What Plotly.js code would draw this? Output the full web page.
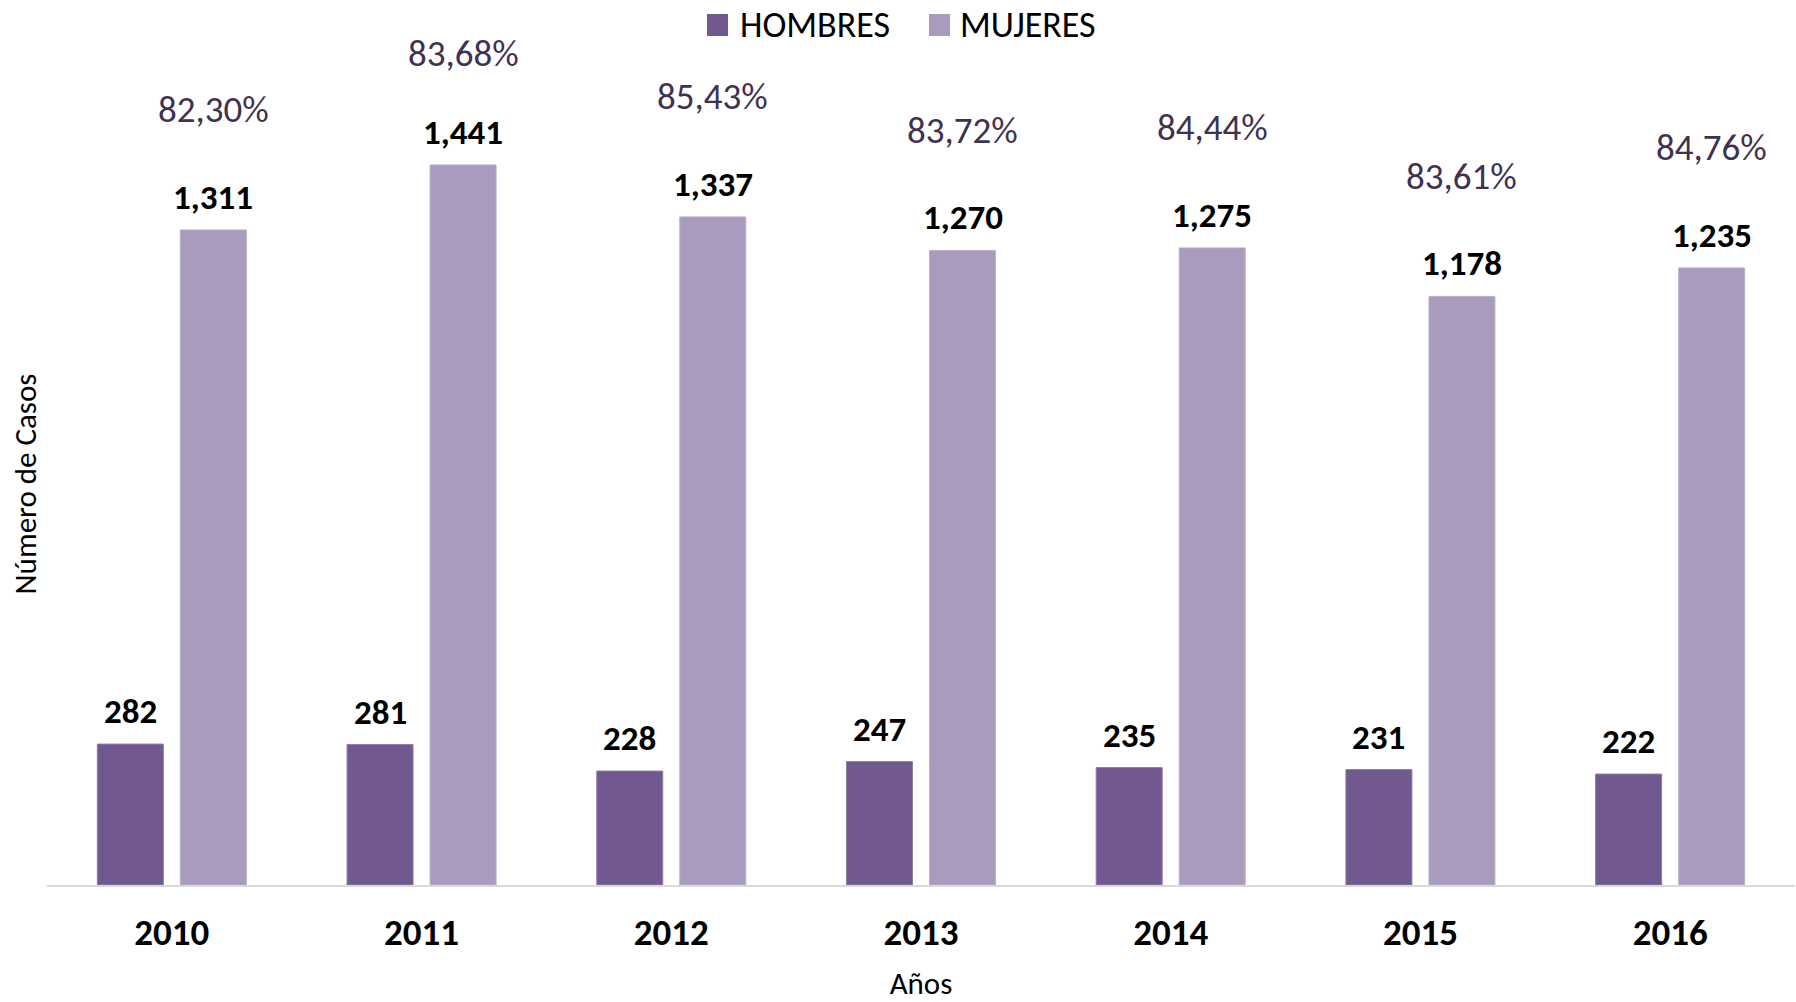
<!DOCTYPE html>
<html>
<head>
<meta charset="utf-8">
<script src="https://cdn.plot.ly/plotly-3.0.1.min.js"></script>
<style>
  html, body { margin: 0; padding: 0; background: #fff; }
  #chart { width: 1796px; height: 1002px; }
</style>
</head>
<body>
<div id="chart"></div>
<script>
const years = ["2010", "2011", "2012", "2013", "2014", "2015", "2016"];
const hombres = [282, 281, 228, 247, 235, 231, 222];
const mujeres = [1311, 1441, 1337, 1270, 1275, 1178, 1235];
const pctMujeres = ["82,30%", "83,68%", "85,43%", "83,72%", "84,44%", "83,61%", "84,76%"];
const seriesNames = ["HOMBRES", "MUJERES"];

const FONT = "Carlito, Lato, 'Open Sans', sans-serif";
const C_H = "#71588F";
const C_M = "#A99BBE";

const traces = [
  {
    type: "bar", name: seriesNames[0], x: years, y: hombres,
    marker: { color: C_H, line: { color: "#8F7BA8", width: 1 } },
    hoverinfo: "x+y"
  },
  {
    type: "bar", name: seriesNames[1], x: years, y: mujeres,
    marker: { color: C_M, line: { color: "#BBB0CC", width: 1 } },
    hoverinfo: "x+y"
  }
];

// plot area in pixels
const L = 47, R = 1, T = 83, B = 117, W = 1796, H = 1002;
const YMAX = 1605;
const pw = W - L - R, ph = H - T - B;
const px = x => (x - L) / pw;
const py = y => (H - B - y) / ph;

const fmt = v => v.toLocaleString("en-US");
const annotations = [];
years.forEach((yr, i) => {
  annotations.push({
    x: i, y: hombres[i], xref: "x", yref: "y", xshift: -41.5, yshift: 33,
    text: fmt(hombres[i]), showarrow: false, yanchor: "middle",
    font: { family: FONT, size: 35, color: "#000", weight: "bold" }
  });
  annotations.push({
    x: i, y: mujeres[i], xref: "x", yref: "y", xshift: 41.5, yshift: 33,
    text: fmt(mujeres[i]), showarrow: false, yanchor: "middle",
    font: { family: FONT, size: 35, color: "#000", weight: "bold" }
  });
  // percentage label ~120px above the bar, kept inside the chart top
  const barTopPx = (H - B) - mujeres[i] * ph / YMAX;
  const shift = Math.min(120, barTopPx - 53);
  annotations.push({
    x: i, y: mujeres[i], xref: "x", yref: "y", xshift: 41.5, yshift: shift,
    text: pctMujeres[i], showarrow: false, yanchor: "middle",
    font: { family: FONT, size: 37, color: "#403151" }
  });
});

// custom legend (larger swatches like the original)
const legendItems = [
  { sq: 707, tx: 738, color: C_H, name: seriesNames[0] },
  { sq: 929, tx: 958, color: C_M, name: seriesNames[1] }
];
const shapes = [];
legendItems.forEach(it => {
  shapes.push({
    type: "rect", xref: "paper", yref: "paper",
    x0: px(it.sq), x1: px(it.sq + 21), y0: py(36), y1: py(14),
    fillcolor: it.color, line: { width: 0 }
  });
  annotations.push({
    x: px(it.tx), y: py(25), xref: "paper", yref: "paper",
    xanchor: "left", yanchor: "middle", showarrow: false,
    text: it.name, font: { family: FONT, size: 36, color: "#000" }
  });
});

const layout = {
  width: W, height: H,
  margin: { l: L, r: R, t: T, b: B, pad: 0 },
  paper_bgcolor: "#fff", plot_bgcolor: "#fff",
  font: { family: FONT, color: "#000" },
  barmode: "group",
  bargap: 0.335,
  bargroupgap: 0.205,
  showlegend: false,
  xaxis: {
    type: "category",
    categoryarray: years, categoryorder: "array",
    range: [-0.5, years.length - 0.5],
    showline: true, linecolor: "#D9D9D9", linewidth: 2,
    showgrid: false, zeroline: false, ticks: "",
    tickfont: { family: FONT, size: 37, color: "#000", weight: "bold" },
    ticklabelstandoff: 14,
    title: { text: "Años", font: { family: FONT, size: 31, color: "#000" }, standoff: 18 }
  },
  yaxis: {
    range: [0, YMAX],
    showgrid: false, zeroline: false, showline: false,
    showticklabels: false, ticks: "",
    title: { text: "Número de Casos", font: { family: FONT, size: 31, color: "#000" }, standoff: 0 }
  },
  shapes: shapes,
  annotations: annotations
};

Plotly.newPlot("chart", traces, layout, { displayModeBar: false, staticPlot: true });
</script>
</body>
</html>
